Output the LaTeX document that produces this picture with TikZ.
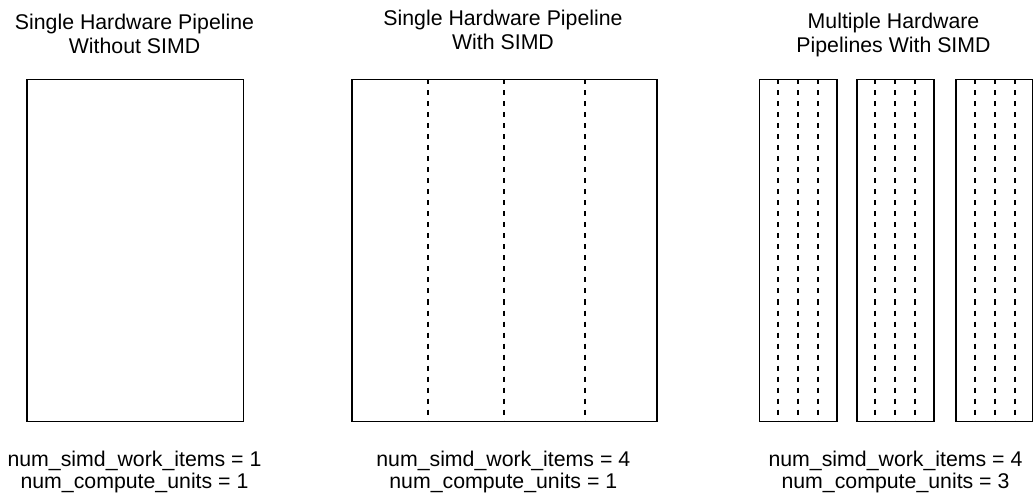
\documentclass[tikz,border=0pt]{standalone}
\usepackage{fontspec}
\setmainfont{Liberation Sans}
\begin{document}
\begin{tikzpicture}[x=1pt,y=-1pt,
  unit/.style={draw=black,line width=1.7pt,rectangle,inner sep=0pt,
    minimum height=342pt},
  lane/.style={draw=black,line width=1.9pt,dash pattern=on 5pt off 6pt},
  caption/.style={font=\fontsize{21.3}{24}\selectfont,anchor=base,inner sep=0pt}]
\useasboundingbox (0,0) rectangle (1033,494);

% titles
\node[caption] (t1a) at (134.5,29.3) {Single Hardware Pipeline};
\node[caption] (t1b) at (134.5,53.3) {Without SIMD};
\node[caption] (t2a) at (503,25.3) {Single Hardware Pipeline};
\node[caption] (t2b) at (503,49.3) {With SIMD};
\node[caption] (t3a) at (893.5,28.3) {Multiple Hardware};
\node[caption] (t3b) at (893.5,52.5) {Pipelines With SIMD};

% single pipeline, no SIMD
\node[unit,minimum width=216.5pt] (cu1) at (135.25,250.5) {};

% single pipeline with four SIMD lanes
\node[unit,minimum width=305.3pt] (cu2) at (504.35,250.5) {};
\foreach \x in {428,504,585}
  \draw[lane] (\x,79.5) -- (\x,421.5);

% three pipelines with four SIMD lanes each
\foreach \c/\m/\n in {798.3/798/a,895.5/895/b,994.5/995/c}{
  \node[unit,minimum width=77.5pt] (cu3\n) at (\c,250.5) {};
  \foreach \d in {-20,0,20}
    \draw[lane] (\m+\d,79.5) -- (\m+\d,421.5);
}

% parameters
\node[caption] (p1a) at (134.5,466) {num\_simd\_work\_items = 1};
\node[caption] (p1b) at (134.5,488) {num\_compute\_units = 1};
\node[caption] (p2a) at (503.3,466) {num\_simd\_work\_items = 4};
\node[caption] (p2b) at (503.3,488) {num\_compute\_units = 1};
\node[caption] (p3a) at (895.5,466) {num\_simd\_work\_items = 4};
\node[caption] (p3b) at (895.5,488) {num\_compute\_units = 3};
\end{tikzpicture}
\end{document}
